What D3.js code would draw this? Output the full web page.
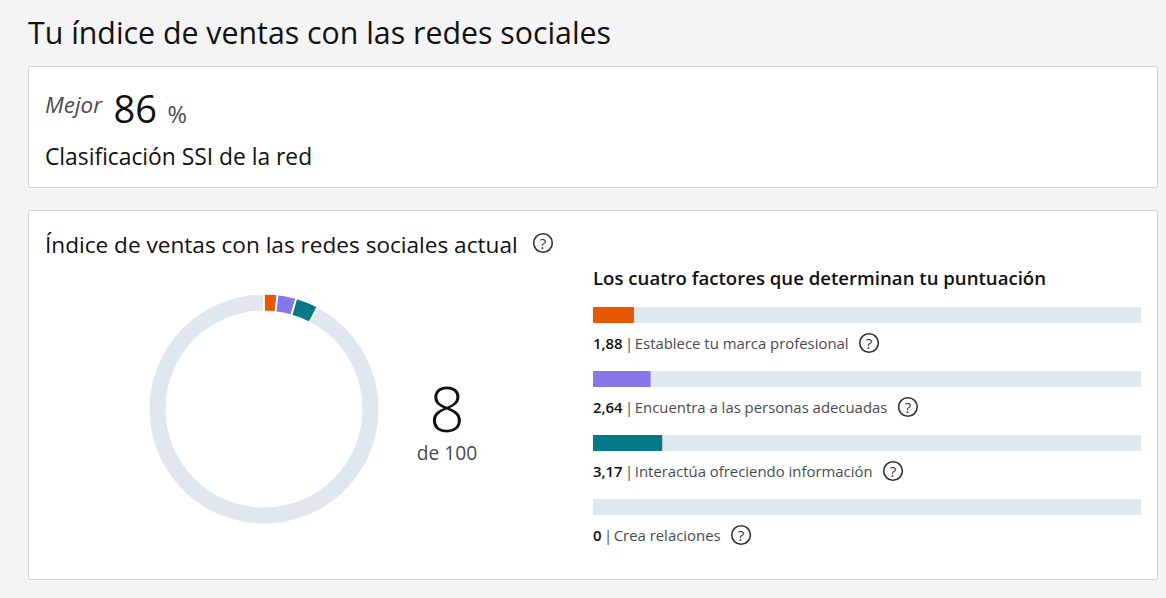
<!DOCTYPE html>
<html>
<head>
<meta charset="utf-8">
<script src="https://cdn.jsdelivr.net/npm/d3@7"></script>
<style>
html, body { margin: 0; padding: 0; background: #f4f4f4; overflow: hidden; }
text { font-family: "Open Sans", "Noto Sans", sans-serif; }
</style>
</head>
<body>
<div id="chart"></div>
<script>
var factors = ["Establece tu marca profesional", "Encuentra a las personas adecuadas", "Interactúa ofreciendo información", "Crea relaciones"];
var factorValues = [1.88, 2.64, 3.17, 0];
var factorValueLabels = ["1,88", "2,64", "3,17", "0"];
var factorColors = ["#e75900", "#8577e8", "#047a88", "#e0e7ee"];
var totalMax = 100;
var factorMax = 25;

var cfg = {
  w: 1166,
  h: 598,
  trackColor: "#e0e7ee",
  ink: "#111111",
  soft: "#4a4a52",
  cx: 264,
  cy: 409,
  outer: 114.5,
  inner: 98.5,
  barX: 593,
  barW: 546,
  barTrackW: 548,
  barH: 16,
  barTop: 307,
  barStep: 64
};

var svg = d3.select("#chart").append("svg")
  .attr("width", cfg.w)
  .attr("height", cfg.h)
  .style("display", "block");

function label(x, y, str, size, color, extra) {
  var t = svg.append("text")
    .attr("x", x)
    .attr("y", y)
    .attr("font-size", size)
    .attr("fill", color)
    .text(str);
  if (extra) extra(t);
  return t;
}

function card(x, y, w, h) {
  svg.append("rect")
    .attr("x", x + 0.5).attr("y", y + 0.5)
    .attr("width", w).attr("height", h)
    .attr("rx", 2)
    .attr("fill", "#fff")
    .attr("stroke", "#d0d0d0");
}

function helpIcon(cx, cy) {
  svg.append("circle")
    .attr("cx", cx).attr("cy", cy).attr("r", 9.3)
    .attr("fill", "none").attr("stroke", "#333").attr("stroke-width", 1.6);
  label(cx, cy + 5.5, "?", 15, "#333", function(t) { t.attr("text-anchor", "middle"); });
}

label(28, 44, "Tu índice de ventas con las redes sociales", 30.3, cfg.ink);

card(28, 66, 1129, 121);
label(45, 113, "Mejor", 22.4, cfg.soft, function(t) { t.attr("font-style", "italic"); });
label(113.5, 123, "86", 38, cfg.ink);
label(167.5, 123, "%", 23.5, cfg.soft);
label(45, 165, "Clasificación SSI de la red", 22.8, cfg.ink);

card(28, 210, 1129, 369);
label(45, 253, "Índice de ventas con las redes sociales actual", 22.6, cfg.ink);
helpIcon(543, 243);

//Ring with the four factors, from the top clockwise
var ringScale = d3.scaleLinear().domain([0, totalMax]).range([0, 2 * Math.PI]);
var arc = d3.arc().innerRadius(cfg.inner).outerRadius(cfg.outer);
var sliceArc = d3.arc().innerRadius(cfg.inner - 1).outerRadius(cfg.outer + 1);
var ring = svg.append("g")
  .attr("transform", "translate(" + cfg.cx + "," + cfg.cy + ")");

ring.append("path")
  .attr("d", arc({ startAngle: 0, endAngle: 2 * Math.PI }))
  .attr("fill", cfg.trackColor);

var running = 0;
var slices = factorValues.map(function(v, i) {
  var s = { startAngle: ringScale(running), endAngle: ringScale(running + v), color: factorColors[i] };
  running += v;
  return s;
});

ring.selectAll(".slice")
  .data(slices.filter(function(s) { return s.endAngle > s.startAngle; }))
  .enter()
  .append("path")
  .attr("class", "slice")
  .attr("d", sliceArc)
  .attr("fill", function(d) { return d.color; })
  .attr("stroke", "#fff")
  .attr("stroke-width", 1.8);

label(447, 431.5, "8", 62, cfg.ink, function(t) { t.attr("text-anchor", "middle").attr("font-weight", 300); });
label(447, 460, "de 100", 19.2, cfg.soft, function(t) { t.attr("text-anchor", "middle"); });

label(cfg.barX, 285, "Los cuatro factores que determinan tu puntuación", 18.6, cfg.ink, function(t) { t.attr("font-weight", 600); });

var x = d3.scaleLinear().domain([0, factorMax]).range([0, cfg.barW]);
var y = d3.scaleBand().domain(factors).range([cfg.barTop, cfg.barTop + cfg.barStep * factors.length]);

var rows = svg.selectAll(".factor")
  .data(factors)
  .enter()
  .append("g")
  .attr("class", "factor")
  .attr("transform", function(d) { return "translate(" + cfg.barX + "," + y(d) + ")"; });

rows.append("rect")
  .attr("width", cfg.barTrackW)
  .attr("height", cfg.barH)
  .attr("fill", cfg.trackColor);

rows.append("rect")
  .attr("width", function(d, i) { return x(factorValues[i]); })
  .attr("height", cfg.barH)
  .attr("rx", 1)
  .attr("fill", function(d, i) { return factorColors[i]; });

var captions = rows.append("text")
  .attr("y", 42)
  .attr("font-size", 14.9)
  .attr("fill", cfg.soft);

captions.append("tspan")
  .attr("font-weight", 600)
  .attr("fill", cfg.ink)
  .text(function(d, i) { return factorValueLabels[i]; });

captions.append("tspan")
  .attr("dx", 2.5)
  .text("|");

captions.append("tspan")
  .attr("dx", 1.5)
  .text(function(d) { return d; });

//Help icons follow the end of each caption
captions.each(function(d, i) {
  var end = this.getBBox().x + this.getBBox().width;
  helpIcon(cfg.barX + end + 20.5, y(d) + 36);
});
</script>
</body>
</html>
